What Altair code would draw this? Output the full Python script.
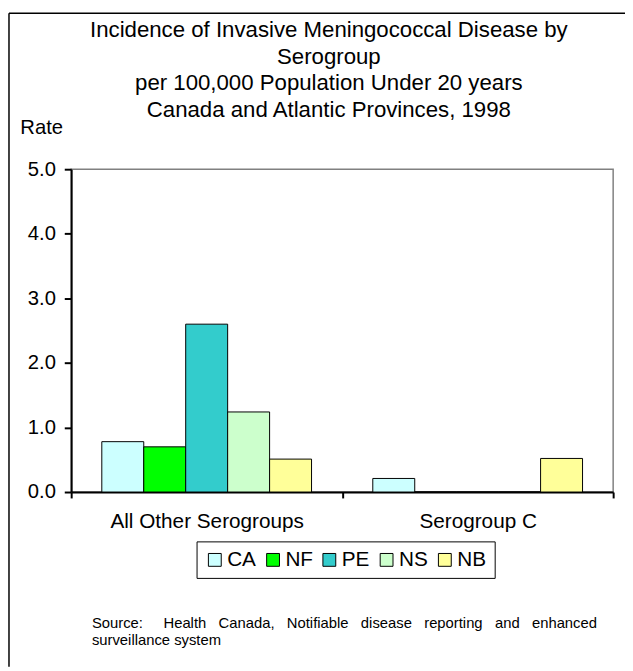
import altair as alt
import pandas as pd

groups = ["All Other Serogroups", "Serogroup C"]
provinces = ["CA", "NF", "PE", "NS", "NB"]
other_rates = [0.78, 0.70, 2.60, 1.24, 0.51]
serogroup_c_rates = [0.21, 0.0, 0.0, 0.0, 0.52]
colors = ["#CCFFFF", "#00FF00", "#33CCCC", "#CCFFCC", "#FFFF99"]
y_ticks = [0, 1, 2, 3, 4, 5]
title_lines = [
    "Incidence of Invasive Meningococcal Disease by",
    "Serogroup",
    "per 100,000 Population Under 20 years",
    "Canada and Atlantic Provinces, 1998",
]
NB = "\u00a0"
source_lines = [
    f"Source:{NB*5}Health{NB*3}Canada,{NB*3}Notifiable{NB*3}disease{NB*3}reporting{NB*3}and{NB*3}enhanced",
    "surveillance system",
]

rows = []
for p, v in zip(provinces, other_rates):
    rows.append({"group": groups[0], "province": p, "rate": v})
for p, v in zip(provinces, serogroup_c_rates):
    rows.append({"group": groups[1], "province": p, "rate": v})
df = pd.DataFrame(rows)

FONT = "Liberation Sans"
W, H = 549, 327

bars = alt.Chart(df).mark_bar(stroke="black", strokeWidth=1).encode(
    x=alt.X("group:N", sort=groups,
            scale=alt.Scale(paddingInner=0, paddingOuter=0),
            axis=alt.Axis(title=None, labelAngle=0, tickBand="extent",
                          domainColor="black", domainWidth=2,
                          tickColor="black", tickWidth=2, tickSize=6,
                          labelFontSize=21, labelPadding=13, labelColor="black",
                          labelLimit=400)),
    xOffset=alt.XOffset("province:N", sort=provinces,
                        scale=alt.Scale(paddingInner=0, paddingOuter=0.73)),
    y=alt.Y("rate:Q", scale=alt.Scale(domain=[0, 5]),
            axis=alt.Axis(values=y_ticks, format=".1f", grid=False, title="Rate",
                          domainColor="black", domainWidth=2,
                          tickColor="black", tickWidth=2, tickSize=7,
                          labelFontSize=20.5, labelPadding=9, labelColor="black",
                          titleAngle=0, titleX=-52, titleY=-42, titleAlign="left",
                          titleBaseline="middle", titleFontSize=20.5,
                          titleFontWeight="normal", titleColor="black")),
    color=alt.Color("province:N", sort=provinces,
                    scale=alt.Scale(domain=provinces, range=colors),
                    legend=alt.Legend(title=None, orient="none", legendX=127, legendY=377,
                                      direction="horizontal", strokeColor="black",
                                      padding=8, symbolType="square", symbolSize=169,
                                      symbolStrokeColor="black", symbolStrokeWidth=1,
                                      labelFontSize=21, labelOffset=2, columnPadding=6,
                                      labelColor="black", labelLimit=200)),
)

ttl = pd.DataFrame({"t": title_lines, "yy": [-141, -114, -87, -60]})
title = alt.Chart(ttl).mark_text(align="center", baseline="middle", fontSize=22.5,
                                 font=FONT, color="black").encode(
    x=alt.value(261), y=alt.Y("yy:Q", scale=None), text="t:N")

src = pd.DataFrame({"t": source_lines, "yy": [460, 477]})
source = alt.Chart(src).mark_text(align="left", baseline="middle", fontSize=15,
                                  font=FONT, color="black").encode(
    x=alt.value(21), y=alt.Y("yy:Q", scale=None), text="t:N")

frame_left = alt.Chart(pd.DataFrame({"a": [0]})).mark_rule(color="black", strokeWidth=1.5).encode(
    x=alt.value(-63), y=alt.value(-158), y2=alt.value(504))
frame_top = alt.Chart(pd.DataFrame({"a": [0]})).mark_rule(color="black", strokeWidth=1.5).encode(
    x=alt.value(-63), x2=alt.value(561), y=alt.value(-158))

chart = alt.layer(bars, title, source, frame_left, frame_top).properties(
    width=W, height=H,
    autosize=alt.AutoSizeParams(type="none"),
    padding={"left": 64, "top": 159, "right": 12, "bottom": 177},
).configure(font=FONT).configure_view(stroke="#808080", strokeWidth=1.5)

chart.save("out.html", embed_options={"renderer": "svg", "actions": False})
